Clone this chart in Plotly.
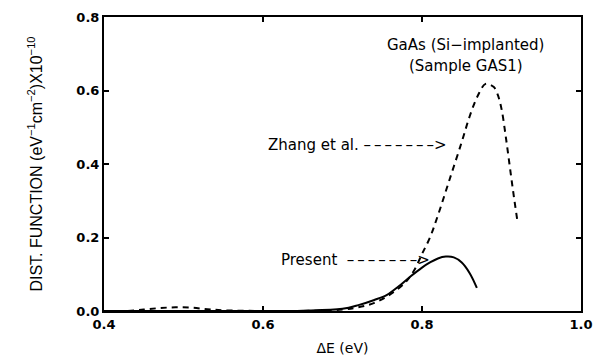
import plotly.graph_objects as go

# Zhang et al. (dashed)
zhang_x = [0.43, 0.45, 0.47, 0.49, 0.51, 0.53, 0.55, 0.60, 0.65, 0.70, 0.72, 0.74, 0.76, 0.78, 0.79, 0.80, 0.81, 0.82, 0.835, 0.85, 0.86, 0.87, 0.88, 0.89, 0.895, 0.90, 0.905, 0.91, 0.915, 0.92]
zhang_y = [0.0, 0.004, 0.008, 0.010, 0.009, 0.005, 0.002, 0.0, 0.0, 0.004, 0.010, 0.022, 0.045, 0.08, 0.11, 0.155, 0.20, 0.26, 0.36, 0.46, 0.53, 0.585, 0.618, 0.61, 0.59, 0.55, 0.48, 0.40, 0.32, 0.245]

# Present (solid)
present_x = [0.40, 0.50, 0.60, 0.65, 0.70, 0.72, 0.74, 0.756, 0.77, 0.785, 0.80, 0.81, 0.82, 0.83, 0.84, 0.85, 0.86, 0.869]
present_y = [0.0, 0.0, 0.0, 0.001, 0.006, 0.016, 0.03, 0.044, 0.066, 0.093, 0.118, 0.132, 0.143, 0.148, 0.146, 0.132, 0.103, 0.063]

x_ticks = [0.4, 0.6, 0.8, 1.0]
y_ticks = [0.0, 0.2, 0.4, 0.6, 0.8]

fig = go.Figure()
fig.add_trace(go.Scatter(x=zhang_x, y=zhang_y, mode="lines",
                         line=dict(color="black", width=2, dash="6px,5px", shape="spline"),
                         showlegend=False))
fig.add_trace(go.Scatter(x=present_x, y=present_y, mode="lines",
                         line=dict(color="black", width=2, shape="spline"),
                         showlegend=False))

font_lbl = dict(family="DejaVu Sans", size=15, color="black")
arrow = "\u2009".join(["\u2013"] * 7) + ">"
fig.add_annotation(x=0.855, y=0.724, xref="x", yref="y", text="GaAs (Si\u2212implanted)",
                   showarrow=False, font=font_lbl)
fig.add_annotation(x=0.855, y=0.668, xref="x", yref="y", text="(Sample GAS1)",
                   showarrow=False, font=font_lbl)
fig.add_annotation(x=0.834, y=0.452, xref="x", yref="y", xanchor="right",
                   text="Zhang et al. " + arrow, showarrow=False, font=font_lbl)
fig.add_annotation(x=0.812, y=0.139, xref="x", yref="y", xanchor="right",
                   text="Present  " + arrow, showarrow=False, font=font_lbl)

axis_common = dict(showgrid=False, zeroline=False, showline=True, linecolor="black",
                   linewidth=2, mirror="ticks", ticks="inside", ticklen=5, tickwidth=1.5,
                   tickcolor="black", automargin=False,
                   tickfont=dict(family="DejaVu Sans", size=13, color="black", weight="bold"))

fig.update_xaxes(range=[0.4, 1.0], tickvals=x_ticks, ticktext=[f"{v:.1f}" for v in x_ticks],
                 title=dict(text="\u0394E (eV)", font=dict(family="DejaVu Sans", size=14, color="black"), standoff=13),
                 **axis_common)
fig.update_yaxes(range=[0.0, 0.8], tickvals=y_ticks, ticktext=[f"{v:.1f}" for v in y_ticks],
                 title=dict(text="DIST. FUNCTION (eV<sup>\u22121</sup>cm<sup>\u22122</sup>)X10<sup>\u221210</sup>",
                            font=dict(family="Liberation Sans", size=16, color="black"), standoff=30),
                 **axis_common)

fig.update_layout(width=607, height=362, plot_bgcolor="white", paper_bgcolor="white",
                  margin=dict(l=104, r=26, t=17, b=51))

fig.write_html("out.html", config={"displayModeBar": False},
               post_script="document.body.style.margin='0';")
